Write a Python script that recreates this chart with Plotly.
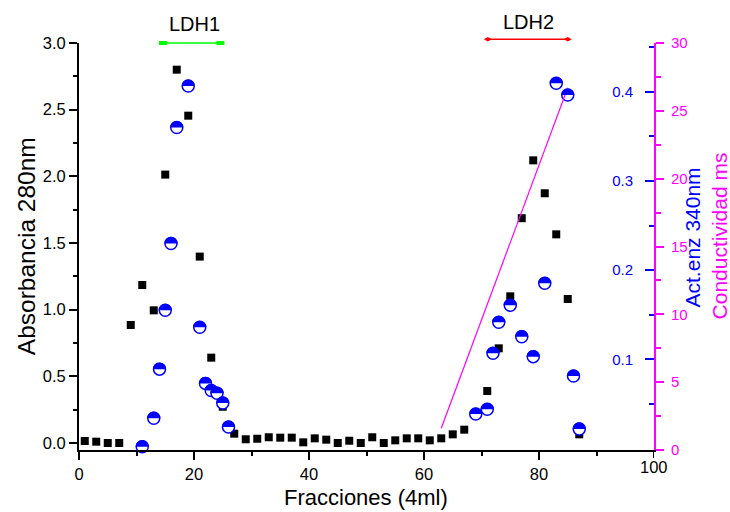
import plotly.graph_objects as go

# Absorbancia 280 nm (left axis)
frac_abs = [1, 3, 5, 7, 9, 11, 13, 15, 17, 19, 21, 23, 25, 27, 29, 31, 33, 35, 37, 39,
            41, 43, 45, 47, 49, 51, 53, 55, 57, 59, 61, 63, 65, 67, 69, 71, 73, 75, 77,
            79, 81, 83, 85, 87]
abs280 = [0.015, 0.01, 0.0, 0.0, 0.885, 1.185, 0.995, 2.013, 2.80, 2.455, 1.398, 0.64,
          0.272, 0.07, 0.028, 0.032, 0.043, 0.04, 0.04, 0.005, 0.035, 0.025, 0.0, 0.017,
          0.0, 0.043, 0.0, 0.02, 0.035, 0.035, 0.02, 0.035, 0.065, 0.10, 0.21, 0.39,
          0.71, 1.10, 1.686, 2.12, 1.873, 1.565, 1.08, 0.065]

# Act. enzimatica 340 nm (blue right axis)
frac_enz = [11, 13, 14, 15, 16, 17, 19, 21, 22, 23, 24, 25, 26,
            69, 71, 72, 73, 75, 77, 79, 81, 83, 85, 86, 87]
act_enz = [0.002, 0.034, 0.089, 0.155, 0.230, 0.360, 0.4065, 0.136, 0.073, 0.065, 0.062,
           0.051, 0.024,
           0.0387, 0.044, 0.1068, 0.1415, 0.1606, 0.1254, 0.103, 0.1853, 0.4096, 0.3964,
           0.0813, 0.0219]

# Conductividad (magenta right axis)
frac_cond = [63, 85]
cond = [1.6, 26.7]

# Pool bars (left-axis units)
ldh1_x = [14.6, 24.6]
ldh1_y = [3.0, 3.0]
ldh2_x = [71.1, 85.0]
ldh2_y = [3.028, 3.028]

# x tick labels
x_ticks = [0, 20, 40, 60, 80, 100]

X_RANGE = [0, 100]
Y_RANGE = [-0.0525, 3.0]

BLUE = "#0000FF"
MAG = "#FF00FF"
GREEN = "#00FF00"
RED = "#FF0000"
FONT = "Liberation Sans, Arial, sans-serif"


def to_paper(v):
    return (v - Y_RANGE[0]) / (Y_RANGE[1] - Y_RANGE[0])


fig = go.Figure()

fig.add_trace(go.Scatter(x=frac_abs, y=abs280, mode="markers", yaxis="y",
                         marker=dict(symbol="square", size=8, color="black"),
                         showlegend=False, cliponaxis=False))

fig.add_trace(go.Scatter(x=frac_enz, y=act_enz, mode="markers", yaxis="y2",
                         marker=dict(symbol="circle", size=12, color="white",
                                     line=dict(color=BLUE, width=1.5)),
                         showlegend=False, cliponaxis=False))

fig.add_trace(go.Scatter(x=frac_cond, y=cond, mode="lines", yaxis="y3",
                         line=dict(color=MAG, width=1.2),
                         showlegend=False, cliponaxis=False))

# upper half filled of each enzyme-activity circle
r = 6.6
k = 0.5523 * r
half = (f"M {-r},0 C {-r},{k} {-k},{r} 0,{r} C {k},{r} {r},{k} {r},0 Z")
rect = "M -4,-2 L 4,-2 L 4,2 L -4,2 Z"
diamond = "M -4,0 L 0,2.2 L 4,0 L 0,-2.2 Z"
tick_path = "M 0,-1 L 0,-8"
shapes = []
for xv, yv in zip(frac_enz, act_enz):
    shapes.append(dict(type="path", xref="x", yref="y2", xsizemode="pixel",
                       ysizemode="pixel", xanchor=xv, yanchor=yv, path=half,
                       fillcolor=BLUE, line=dict(width=0), layer="above"))

# pool bars (paper coordinates so they are not clipped above the plot)
for xs, ys, col, mk in [(ldh1_x, ldh1_y, GREEN, rect), (ldh2_x, ldh2_y, RED, diamond)]:
    shapes.append(dict(type="line", xref="x", yref="paper",
                       x0=xs[0], x1=xs[1], y0=to_paper(ys[0]), y1=to_paper(ys[1]),
                       line=dict(color=col, width=1.5), layer="above"))
    for xv, yv in zip(xs, ys):
        shapes.append(dict(type="path", xref="x", yref="paper", xsizemode="pixel",
                           ysizemode="pixel", xanchor=xv, yanchor=to_paper(yv),
                           path=mk, fillcolor=col, line=dict(width=0), layer="above"))

# last x tick (plotly hides the one at the right edge here)
shapes.append(dict(type="path", xref="x", yref="paper", xsizemode="pixel",
                   ysizemode="pixel", xanchor=x_ticks[-1], yanchor=0, path=tick_path,
                   line=dict(color="black", width=2), layer="above"))

annotations = [
    dict(text="Absorbancia 280nm", xref="paper", yref="paper", x=-0.092, y=0.501,
         textangle=-90, showarrow=False, xanchor="center", yanchor="middle",
         font=dict(size=24.5, color="black", family=FONT)),
    dict(text="Fracciones (4ml)", xref="paper", yref="paper", x=0.4986, y=-0.1155,
         showarrow=False, xanchor="center", yanchor="middle",
         font=dict(size=22, color="black", family=FONT)),
    dict(text="Act.enz 340nm", xref="paper", yref="paper", x=1.067, y=0.521,
         textangle=-90, showarrow=False, xanchor="center", yanchor="middle",
         font=dict(size=21, color=BLUE, family=FONT)),
    dict(text="Conductividad ms", xref="paper", yref="paper", x=1.114, y=0.526,
         textangle=-90, showarrow=False, xanchor="center", yanchor="middle",
         font=dict(size=21, color=MAG, family=FONT)),
    dict(text="LDH1", xref="x", yref="paper", x=20, y=1.047,
         showarrow=False, xanchor="center", yanchor="middle",
         font=dict(size=20, color="black", family=FONT)),
    dict(text="LDH2", xref="x", yref="paper", x=78.2, y=1.052,
         showarrow=False, xanchor="center", yanchor="middle",
         font=dict(size=20, color="black", family=FONT)),
    dict(text=str(x_ticks[-1]), xref="x", yref="paper", x=x_ticks[-1], y=-0.0418,
         showarrow=False, xanchor="center", yanchor="middle",
         font=dict(size=16.5, color="black", family=FONT)),
]

fig.update_layout(
    width=730, height=512,
    margin=dict(l=79, r=76, t=43, b=62),
    paper_bgcolor="white", plot_bgcolor="white",
    font=dict(family=FONT, color="black"),
    shapes=shapes, annotations=annotations,
    xaxis=dict(range=X_RANGE, tickmode="array", tickvals=x_ticks,
               ticktext=[str(v) for v in x_ticks],
               showgrid=False, zeroline=False,
               showline=True, linecolor="black", linewidth=2,
               ticks="outside", ticklen=8, tickwidth=2, tickcolor="black",
               tickfont=dict(size=16.5, color="black"),
               minor=dict(ticks="outside", ticklen=4, tickwidth=2,
                          tickmode="array", tickvals=[10, 30, 50, 70, 90],
                          tickcolor="black", showgrid=False)),
    yaxis=dict(range=Y_RANGE, tick0=0, dtick=0.5, tickformat=".1f",
               showgrid=False, zeroline=False, showline=True, linecolor="black",
               linewidth=2, ticks="outside", ticklen=8, tickwidth=2,
               tickcolor="black", tickfont=dict(size=16.5, color="black"),
               minor=dict(ticks="outside", ticklen=4, tickwidth=2, dtick=0.25,
                          tickcolor="black", showgrid=False)),
    yaxis2=dict(overlaying="y", side="right", anchor="x",
                range=[-0.0017, 0.4548], tickmode="array",
                tickvals=[0.1, 0.2, 0.3, 0.4], ticktext=["0.1", "0.2", "0.3", "0.4"],
                showgrid=False, zeroline=False, showline=False,
                ticks="inside", ticklabelposition="inside", ticklen=9, tickwidth=2,
                ticklabelstandoff=12,
                tickcolor=BLUE, tickfont=dict(size=15, color=BLUE),
                minor=dict(ticks="inside", ticklen=5, tickwidth=2, tickcolor=BLUE,
                           tickmode="array", tickvals=[0.05, 0.15, 0.25, 0.35, 0.45],
                           showgrid=False)),
    yaxis3=dict(overlaying="y", side="right", anchor="x", range=[0, 30],
                tick0=0, dtick=5, showgrid=False, zeroline=False,
                showline=True, linecolor=MAG, linewidth=2,
                ticks="outside", ticklen=8, tickwidth=2, tickcolor=MAG,
                ticklabelstandoff=4,
                tickfont=dict(size=15, color=MAG),
                minor=dict(ticks="outside", ticklen=5, tickwidth=2, dtick=2.5,
                           tickcolor=MAG, showgrid=False)),
)

fig.write_html("out.html", config={"displayModeBar": False},
               post_script="document.body.style.margin='0px';"
                           "document.body.style.overflow='hidden';")
